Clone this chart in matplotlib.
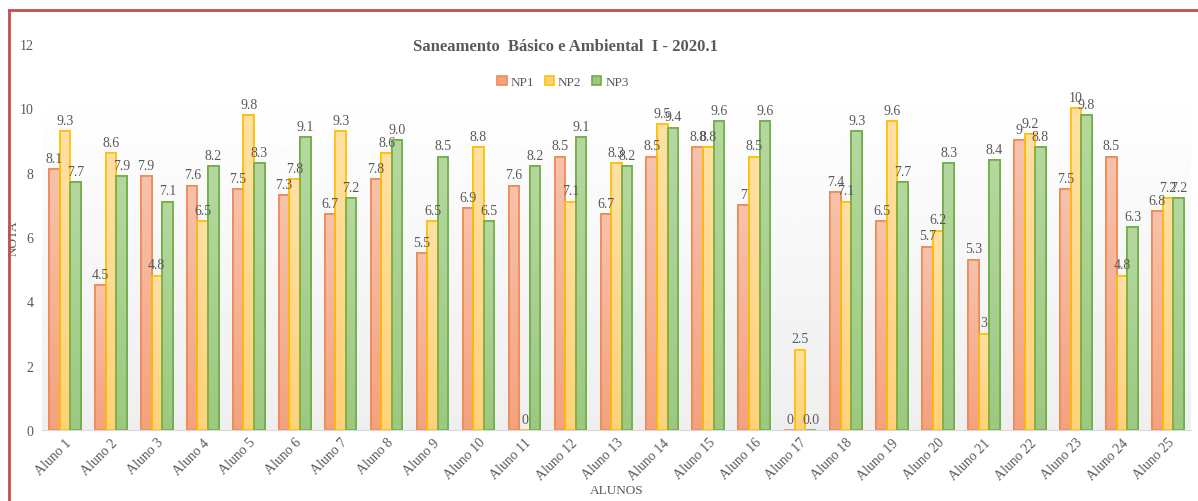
import numpy as np
import matplotlib
matplotlib.use("Agg")
import matplotlib.pyplot as plt
from matplotlib.lines import Line2D
from matplotlib.colors import LinearSegmentedColormap

plt.rcParams['font.family'] = ['Liberation Serif', 'DejaVu Serif']

alunos = ["Aluno %d" % i for i in range(1, 26)]
np1 = [8.1, 4.5, 7.9, 7.6, 7.5, 7.3, 6.7, 7.8, 5.5, 6.9, 7.6, 8.5, 6.7,
       8.5, 8.8, 7, 0, 7.4, 6.5, 5.7, 5.3, 9, 7.5, 8.5, 6.8]
np2 = [9.3, 8.6, 4.8, 6.5, 9.8, 7.8, 9.3, 8.6, 6.5, 8.8, 0, 7.1, 8.3,
       9.5, 8.8, 8.5, 2.5, 7.1, 9.6, 6.2, 3, 9.2, 10, 4.8, 7.2]
np3 = [7.7, 7.9, 7.1, 8.2, 8.3, 9.1, 7.2, 9.0, 8.5, 6.5, 8.2, 9.1, 8.2,
       9.4, 9.6, 9.6, 0.0, 9.3, 7.7, 8.3, 8.4, 8.8, 9.8, 6.3, 7.2]

# name, values, fill bottom, fill top, edge, label format
series = [
    ("NP1", np1, "#F4A27E", "#F7C2AC", "#EE8A55", "{:g}"),
    ("NP2", np2, "#FFD27A", "#FFE0A4", "#FFC000", "{:g}"),
    ("NP3", np3, "#9CC982", "#B5D89F", "#70AD47", "{:.1f}"),
]
txt = "#595959"

fig = plt.figure(figsize=(11.98, 5.02), dpi=100)
ax = fig.add_axes([0.035, 0.1414, 0.959, 0.769])

x = np.arange(len(alunos))
w = 0.23
ax.set_xlim(-0.5, len(alunos) - 0.5)
ax.set_ylim(0, 12)

# soft vertical gradient behind the bars
grad = np.linspace(0.935, 1.0, 256).reshape(-1, 1)
ax.imshow(grad, extent=(-0.5, len(alunos) - 0.5, 0, 10.66), origin="lower",
          cmap="gray", vmin=0, vmax=1, aspect="auto", zorder=0)

ramp = np.linspace(0, 1, 128).reshape(-1, 1)
for k, (name, vals, c0, c1, ec, fmt) in enumerate(series):
    pos = x + (k - 1) * w
    bars = ax.bar(pos, vals, w, color=c0, edgecolor=ec, linewidth=1.2,
                  label=name, zorder=2)
    cmap = LinearSegmentedColormap.from_list(name, [c0, c1])
    for b, v in zip(bars, vals):
        if v <= 0:
            continue
        im = ax.imshow(ramp, extent=(b.get_x(), b.get_x() + w, 0, v),
                       origin="lower", cmap=cmap, aspect="auto", zorder=2.1)
        im.set_clip_path(b)
        edge = plt.Rectangle((b.get_x(), 0), w, v, fill=False,
                             edgecolor=ec, linewidth=1.2, zorder=2.2)
        ax.add_patch(edge)
    ax.bar_label(bars, labels=[fmt.format(v) for v in vals], padding=3,
                 fontsize=10, color=txt, zorder=3)

ax.set_xticks(x)
ax.set_xticklabels(alunos, rotation=45, ha="right", rotation_mode="anchor",
                   fontsize=10, color=txt)
ax.set_yticks(range(0, 13, 2))
ax.tick_params(axis="y", length=0, labelsize=10, labelcolor=txt, pad=6)
ax.tick_params(axis="x", length=0, pad=4)
for s in ["top", "right", "left"]:
    ax.spines[s].set_visible(False)
ax.spines["bottom"].set_color("#D9D9D9")
ax.spines["bottom"].set_zorder(4)

ax.set_ylabel("NOTA", fontsize=9.5, color=txt)
ax.set_xlabel("ALUNOS", fontsize=9.5, color=txt, labelpad=2)
ax.yaxis.set_label_coords(-0.0195, 0.5)

fig.text(0.472, 0.906, "Saneamento  Básico e Ambiental  I - 2020.1",
         ha="center", va="center", fontsize=12, fontweight="bold", color=txt)
fig.legend(loc="center", bbox_to_anchor=(0.47, 0.835), ncol=3, frameon=False,
           fontsize=9.5, handlelength=0.7, handleheight=0.7, handletextpad=0.3,
           columnspacing=0.8, labelcolor=txt)

# red frame on the top and left edges
fig.add_artist(Line2D([0.0075, 1.0], [0.978, 0.978], color="#C0504D", lw=2))
fig.add_artist(Line2D([0.0075, 0.0075], [0.0, 0.978], color="#C0504D", lw=2))

fig.savefig("out.png", dpi=100, facecolor="white")
